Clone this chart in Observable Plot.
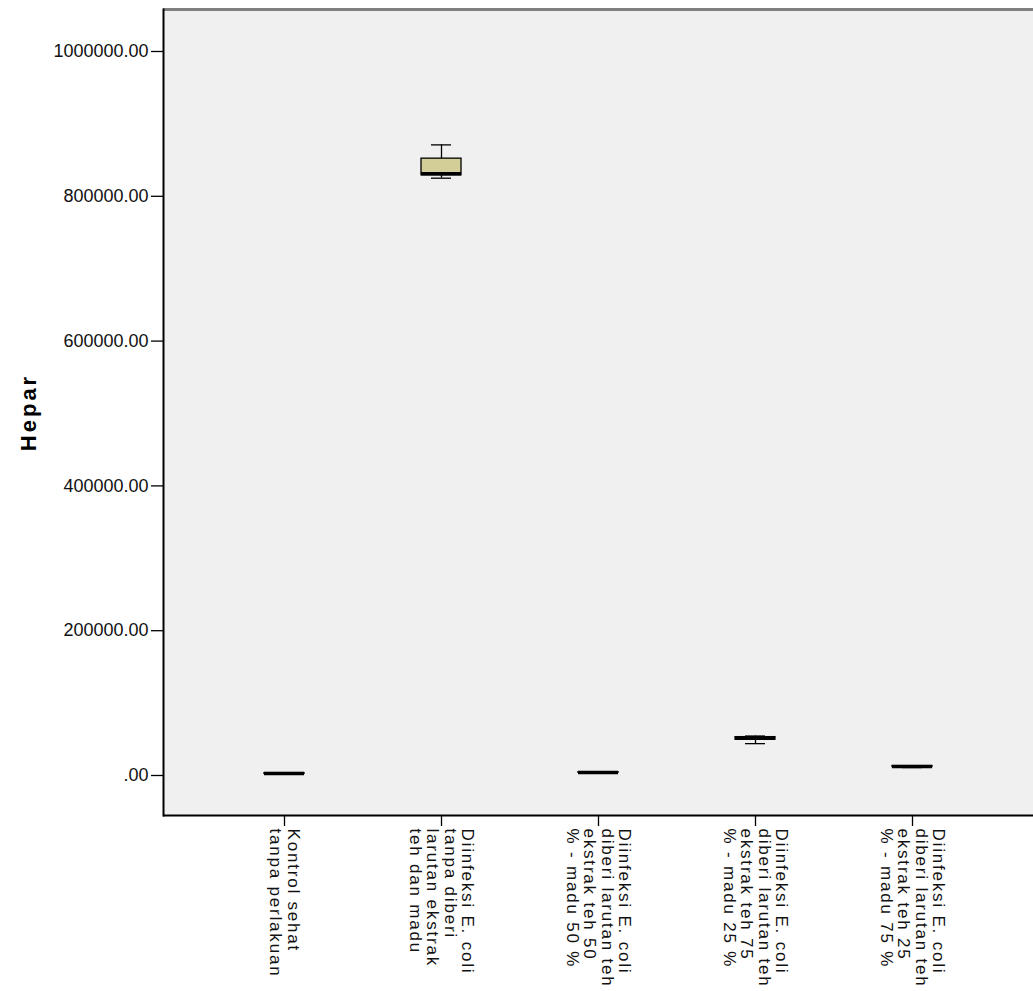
<!DOCTYPE html>
<html>
<head>
<meta charset="utf-8">
<script src="https://cdn.jsdelivr.net/npm/d3@7"></script>
<script src="https://cdn.jsdelivr.net/npm/@observablehq/plot@0.6"></script>
<style>
  html, body { margin: 0; padding: 0; background: #ffffff; overflow: hidden; }
  #chart svg { display: block; }
  g[aria-label="x-axis tick label"] text { letter-spacing: 1.8px; }
</style>
</head>
<body>
<div id="chart"></div>
<script>
const categories = [
  "Kontrol sehat\ntanpa perlakuan",
  "Diinfeksi E. coli\ntanpa diberi\nlarutan ekstrak\nteh dan madu",
  "Diinfeksi E. coli\ndiberi larutan teh\nekstrak teh 50\n% - madu 50 %",
  "Diinfeksi E. coli\ndiberi larutan teh\nekstrak teh 75\n% - madu 25 %",
  "Diinfeksi E. coli\ndiberi larutan teh\nekstrak teh 25\n% - madu 75 %"
];
const mins    = [1800, 825000, 3200, 44000, 11000];
const q1s     = [2200, 829000, 3700, 49500, 11800];
const medians = [2800, 831000, 4100, 51500, 12400];
const q3s     = [3300, 852000, 4600, 53000, 13000];
const maxs    = [3800, 871000, 5000, 54500, 13600];
const yTicks  = [0, 200000, 400000, 600000, 800000, 1000000];
const yTitle  = "Hepar";

const data = categories.map((c, i) => ({
  group: c, min: mins[i], q1: q1s[i], median: medians[i], q3: q3s[i], max: maxs[i]
}));

const chart = Plot.plot({
  width: 1033,
  height: 991,
  marginLeft: 163,
  marginRight: 0,
  marginTop: 9,
  marginBottom: 176,
  style: { fontFamily: "'Liberation Sans', Arial, sans-serif", color: "#111", background: "#ffffff" },
  x: { type: "band", domain: categories, paddingInner: 0.745, paddingOuter: 0.643, align: 0.5, label: null },
  y: { domain: [-55250, 1058000], label: null },
  marks: [
    Plot.frame({ fill: "#f0f0f0", stroke: null }),
    Plot.ruleY([1058000], { stroke: "#808080", strokeWidth: 3 }),
    Plot.ruleX(data, { x: "group", y1: "min", y2: "q1", stroke: "#000", strokeWidth: 1.3 }),
    Plot.ruleX(data, { x: "group", y1: "q3", y2: "max", stroke: "#000", strokeWidth: 1.3 }),
    Plot.tickY(data, { x: "group", y: "min", stroke: "#000", strokeWidth: 1.3, insetLeft: 10, insetRight: 10 }),
    Plot.tickY(data, { x: "group", y: "max", stroke: "#000", strokeWidth: 1.3, insetLeft: 10, insetRight: 10 }),
    Plot.rectY(data, { x: "group", y1: "q1", y2: "q3", fill: "#d3ce97", stroke: "#000", strokeWidth: 1.3 }),
    Plot.tickY(data, { x: "group", y: "median", stroke: "#000", strokeWidth: 3.5 }),
    Plot.axisY({
      ticks: yTicks,
      tickFormat: d => d === 0 ? ".00" : d.toFixed(2),
      tickSize: 12,
      tickPadding: 3,
      fontSize: 18,
      stroke: "#000",
      strokeWidth: 1.3,
      label: null
    }),
    Plot.axisX({
      tickRotate: 90,
      tickSize: 11,
      tickPadding: 2,
      fontSize: 17,
      lineHeight: 1.02,
      stroke: "#000",
      strokeWidth: 1.3,
      label: null
    }),
    Plot.frame({ anchor: "left", stroke: "#000", strokeWidth: 2 }),
    Plot.ruleY([-55250], { stroke: "#000", strokeWidth: 2 }),
    Plot.text([yTitle], {
      text: d => d, frameAnchor: "left", textAnchor: "middle", lineAnchor: "middle",
      dx: -135, rotate: -90,
      fontWeight: "bold", fontSize: 22, fill: "#000", ariaLabel: "y title"
    })
  ]
});
d3.select(chart).selectAll("text")
  .filter(function () { return this.textContent === yTitle; })
  .style("letter-spacing", "3px");
document.getElementById("chart").appendChild(chart);
</script>
</body>
</html>
